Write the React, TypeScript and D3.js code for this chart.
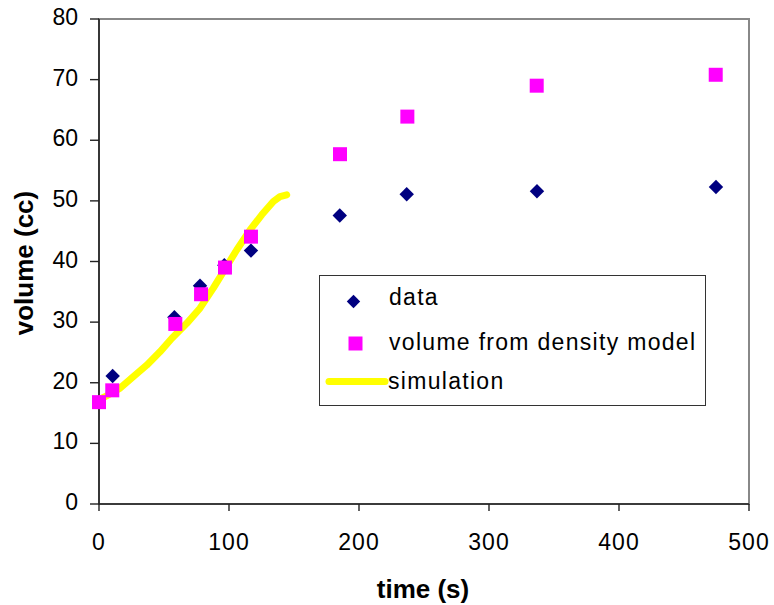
import React from "react";
import * as d3 from "d3";

const dataT = [10.5, 58, 77.7, 96.4, 116.9, 185.2, 236.7, 336.9, 474.6];
const dataV = [21.1, 30.8, 36.0, 39.4, 41.8, 47.6, 51.1, 51.6, 52.3];

const modelT = [0, 10.2, 58.7, 78.5, 96.9, 116.9, 185.4, 237.2, 336.7, 474.4];
const modelV = [16.8, 18.75, 29.7, 34.6, 39.0, 44.1, 57.7, 63.9, 69.0, 70.8];

const simT = [0, 4.6, 16.2, 26.4, 36.7, 46.9, 55.9, 67.5, 77.7, 87.9, 95.6, 105.9, 116.2, 125.2, 134.1, 139.2, 144.4];
const simV = [17.2, 17.7, 19.1, 21.0, 22.9, 25.1, 27.3, 29.8, 32.3, 35.6, 38.3, 41.9, 45.2, 47.7, 49.9, 50.7, 51.0];

const xTicks = [0, 100, 200, 300, 400, 500];
const yTicks = [0, 10, 20, 30, 40, 50, 60, 70, 80];

const legendLabels = ["data", "volume from density model", "simulation"];
const xTitle = "time (s)";
const yTitle = "volume (cc)";

const FONT = '"Liberation Sans", Arial, sans-serif';

export default function App() {
  const W = 774;
  const H = 605;
  const left = 99, right = 749, top = 19, bottom = 504;
  const x = d3.scaleLinear().domain([0, 500]).range([left, right]);
  const y = d3.scaleLinear().domain([0, 80]).range([bottom, top]);

  const simPts: [number, number][] = simT.map((t, i) => [t, simV[i]]);
  const line = d3.line<[number, number]>().x((d) => x(d[0])).y((d) => y(d[1]));

  const diamond = d3.symbol(d3.symbolSquare, 104)();
  const square = d3.symbol(d3.symbolSquare, 196)();
  const legSquare = d3.symbol(d3.symbolSquare, 196)();
  const legDiamond = d3.symbol(d3.symbolSquare, 90)();

  return (
    <svg width={W} height={H} style={{ position: "absolute", left: 0, top: 0, background: "#fff" }} fontFamily={FONT}>
      <rect x={0} y={0} width={W} height={H} fill="#fff" />
      {/* plot border */}
      <rect x={left} y={top} width={right - left} height={bottom - top} fill="none" stroke="#888" strokeWidth={2} />
      {/* axes */}
      <line x1={left} y1={top} x2={left} y2={bottom} stroke="#222" strokeWidth={1.6} />
      <line x1={left} y1={bottom} x2={right} y2={bottom} stroke="#222" strokeWidth={1.6} />
      {yTicks.map((t) => (
        <g key={"y" + t}>
          <line x1={left - 9} x2={left} y1={y(t)} y2={y(t)} stroke="#222" strokeWidth={1.4} />
          <text x={78} y={y(t) - 2} textAnchor="end" dominantBaseline="central" fontSize={23} fill="#000">
            {t}
          </text>
        </g>
      ))}
      {xTicks.map((t) => (
        <g key={"x" + t}>
          <line x1={x(t)} x2={x(t)} y1={bottom} y2={bottom + 7} stroke="#222" strokeWidth={1.4} />
          <text x={x(t)} y={550} textAnchor="middle" fontSize={23} letterSpacing={1} fill="#000">
            {t}
          </text>
        </g>
      ))}
      <text x={423} y={598} textAnchor="middle" fontSize={26} fontWeight="bold" fill="#000">
        {xTitle}
      </text>
      <text
        transform={`translate(33,263) rotate(-90)`}
        textAnchor="middle"
        fontSize={26}
        fontWeight="bold"
        fill="#000"
      >
        {yTitle}
      </text>

      {/* simulation line */}
      <path d={line(simPts) || ""} fill="none" stroke="#FFFF00" strokeWidth={7} strokeLinecap="round" strokeLinejoin="round" />

      {/* data diamonds */}
      {dataT.map((t, i) => (
        <path key={"d" + i} d={diamond || ""} transform={`translate(${x(t)},${y(dataV[i])}) rotate(45)`} fill="#000080" />
      ))}
      {/* model squares */}
      {modelT.map((t, i) => (
        <path key={"m" + i} d={square || ""} transform={`translate(${x(t)},${y(modelV[i])})`} fill="#FF00FF" />
      ))}

      {/* legend */}
      <rect x={319.5} y={275.5} width={386} height={130} fill="#fff" stroke="#333" strokeWidth={1} />
      <path d={legDiamond || ""} transform={`translate(353.5,301.5) rotate(45)`} fill="#000080" />
      <text x={389} y={305} fontSize={23} letterSpacing={1.3} fill="#000">
        {legendLabels[0]}
      </text>
      <path d={legSquare || ""} transform={`translate(355.5,343.5)`} fill="#FF00FF" />
      <text x={389} y={350} fontSize={23} letterSpacing={1.3} fill="#000">
        {legendLabels[1]}
      </text>
      <line x1={329} x2={385} y1={381.5} y2={381.5} stroke="#FFFF00" strokeWidth={7} strokeLinecap="round" />
      <text x={388} y={389} fontSize={23} letterSpacing={1.3} fill="#000">
        {legendLabels[2]}
      </text>
    </svg>
  );
}
